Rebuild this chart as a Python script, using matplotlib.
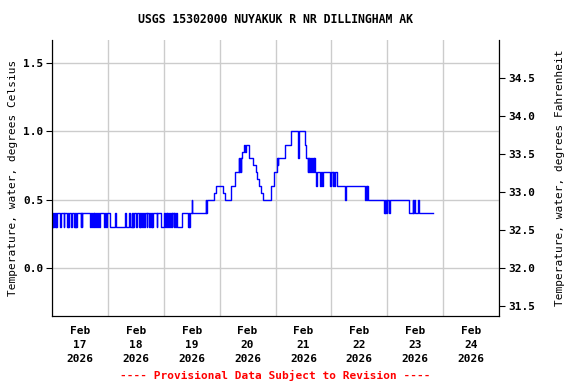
import matplotlib
matplotlib.use("Agg")
import matplotlib.pyplot as plt
import matplotlib.dates as mdates
import pandas as pd

# Step breakpoints: hours after 2026-02-17 00:00 and water temperature (deg C)
start = pd.Timestamp("2026-02-17 00:00")
hours = [
    0.0, 0.25, 0.5, 0.75, 1.25, 1.5, 1.75, 2.0, 3.5, 3.75, 5.0, 5.25, 6.5, 6.75, 7.0, 7.25,
    8.25, 8.5, 9.5, 9.75, 10.0, 10.25, 10.5, 10.75, 12.25, 12.5, 12.75, 13.0, 16.5, 16.75,
    17.25, 17.5, 18.0, 18.25, 18.5, 19.0, 19.5, 19.75, 20.25, 20.5, 22.5, 22.75, 23.0, 23.5,
    25.0, 27.25, 27.5, 31.5, 31.75, 33.25, 33.5, 34.25, 34.5, 34.75, 35.0, 35.25, 36.25, 36.5,
    37.5, 37.75, 38.0, 38.25, 38.75, 39.0, 39.5, 40.0, 40.75, 41.0, 41.5, 42.0, 42.5, 42.75,
    43.0, 43.25, 45.0, 45.25, 46.75, 48.25, 48.5, 48.75, 49.25, 49.5, 50.0, 50.25, 50.75, 51.0,
    51.5, 51.75, 52.25, 52.5, 53.0, 53.25, 53.5, 55.75,
    58.5, 58.75, 59.0, 59.25, 60.0, 60.25, 66.0, 66.25, 66.5, 69.5, 70.25, 73.5, 74.5, 76.75,
    78.5, 80.25, 80.5, 80.75, 81.0, 81.25, 81.75, 82.5, 83.0, 83.5, 84.5, 86.5, 87.5, 88.0,
    88.75, 89.75, 90.5, 94.0, 95.5, 96.5, 96.75, 97.0, 97.25, 100.25, 102.75, 105.75, 106.0,
    108.5, 109.25, 109.75, 110.0, 110.25, 110.5, 111.0, 111.25, 111.75, 112.0, 112.5, 112.75,
    113.0, 113.5, 113.75, 115.25, 115.5, 116.0, 116.25, 119.5, 119.75, 120.5, 120.75, 121.25,
    121.5, 122.5, 126.0, 126.25, 134.5, 134.75, 135.25, 135.5, 135.75, 142.75, 143.0, 143.25,
    143.5, 143.75, 144.0, 144.75, 145.0, 153.5, 155.0, 155.25, 155.5, 155.75, 157.25, 157.5,
    163.75,
]
temp_c = [
    0.3, 0.4, 0.3, 0.4, 0.3, 0.4, 0.3, 0.4, 0.3, 0.4, 0.3, 0.4, 0.3, 0.4, 0.3, 0.4,
    0.3, 0.4, 0.3, 0.4, 0.3, 0.4, 0.3, 0.4, 0.3, 0.4, 0.3, 0.4, 0.3, 0.4,
    0.3, 0.4, 0.3, 0.4, 0.3, 0.4, 0.3, 0.4, 0.3, 0.4, 0.3, 0.4, 0.3, 0.4,
    0.3, 0.4, 0.3, 0.4, 0.3, 0.4, 0.3, 0.4, 0.3, 0.4, 0.3, 0.4, 0.3, 0.4,
    0.3, 0.4, 0.3, 0.4, 0.3, 0.4, 0.3, 0.4, 0.3, 0.4, 0.3, 0.4, 0.3, 0.4,
    0.3, 0.4, 0.3, 0.4, 0.3, 0.4, 0.3, 0.4, 0.3, 0.4, 0.3, 0.4, 0.3, 0.4,
    0.3, 0.4, 0.3, 0.4, 0.3, 0.4, 0.3, 0.4,
    0.3, 0.4, 0.3, 0.4, 0.5, 0.4, 0.5, 0.4, 0.5, 0.55, 0.6, 0.55, 0.5, 0.6,
    0.7, 0.8, 0.7, 0.8, 0.7, 0.8, 0.85, 0.9, 0.85, 0.9, 0.8, 0.75, 0.7, 0.65,
    0.6, 0.55, 0.5, 0.6, 0.7, 0.75, 0.8, 0.75, 0.8, 0.9, 1.0, 0.8, 1.0,
    0.9, 0.8, 0.7, 0.8, 0.7, 0.8, 0.7, 0.8, 0.7, 0.8, 0.7, 0.8,
    0.7, 0.6, 0.7, 0.6, 0.7, 0.6, 0.7, 0.6, 0.7, 0.6, 0.7, 0.6,
    0.7, 0.6, 0.5, 0.6, 0.5, 0.6, 0.5, 0.6, 0.5, 0.4, 0.5, 0.4,
    0.5, 0.4, 0.5, 0.4, 0.5, 0.4, 0.5, 0.4, 0.5, 0.4, 0.5, 0.4,
    0.4,
]

title = "USGS 15302000 NUYAKUK R NR DILLINGHAM AK"
left_label = "Temperature, water, degrees Celsius"
right_label = "Temperature, water, degrees Fahrenheit"
footer = "---- Provisional Data Subject to Revision ----"

plt.rcParams["font.family"] = ["DejaVu Sans Mono"]
plt.rcParams["font.weight"] = "bold"
plt.rcParams["font.size"] = 8

times = start + pd.to_timedelta(hours, unit="h")

fig = plt.figure(figsize=(5.76, 3.84), dpi=100)
ax = fig.add_axes([0.0903, 0.177, 0.776, 0.719])
ax.plot(times, temp_c, color="#0000ff", linewidth=1, drawstyle="steps-post")

ymin, ymax = -0.35, 1.665
ax.set_ylim(ymin, ymax)
ax.set_xlim(pd.Timestamp("2026-02-17"), pd.Timestamp("2026-02-25"))
ax.set_yticks([0.0, 0.5, 1.0, 1.5])
ax.set_yticklabels(["0.0", "0.5", "1.0", "1.5"])

ax.xaxis.set_major_locator(mdates.DayLocator())
ax.xaxis.set_major_formatter(plt.NullFormatter())
ax.xaxis.set_minor_locator(mdates.HourLocator(byhour=[12]))
ax.xaxis.set_minor_formatter(mdates.DateFormatter("%b\n%d\n%Y"))
ax.tick_params(axis="x", which="both", length=0, pad=7)
for lbl in ax.xaxis.get_minorticklabels():
    lbl.set_linespacing(1.5)
ax.tick_params(axis="y", length=4, direction="out", pad=2)
ax.grid(True, which="major", color="#cccccc", linewidth=1)
ax.set_axisbelow(True)
ax.spines["top"].set_visible(False)
ax.set_ylabel(left_label, labelpad=4)
ax.set_title(title, pad=12, fontsize=8.3, fontweight="bold")

ax2 = ax.twinx()
ax2.set_ylim(ymin * 1.8 + 32, ymax * 1.8 + 32)
ax2.set_yticks([31.5, 32.0, 32.5, 33.0, 33.5, 34.0, 34.5])
ax2.set_yticklabels(["31.5", "32.0", "32.5", "33.0", "33.5", "34.0", "34.5"])
ax2.tick_params(axis="y", length=4, direction="out", pad=3)
ax2.spines["top"].set_visible(False)
ax2.set_ylabel(right_label, labelpad=14)

fig.text(0.478, 0.008, footer, color="red", ha="center", va="bottom")

fig.savefig("out.png", dpi=100)
